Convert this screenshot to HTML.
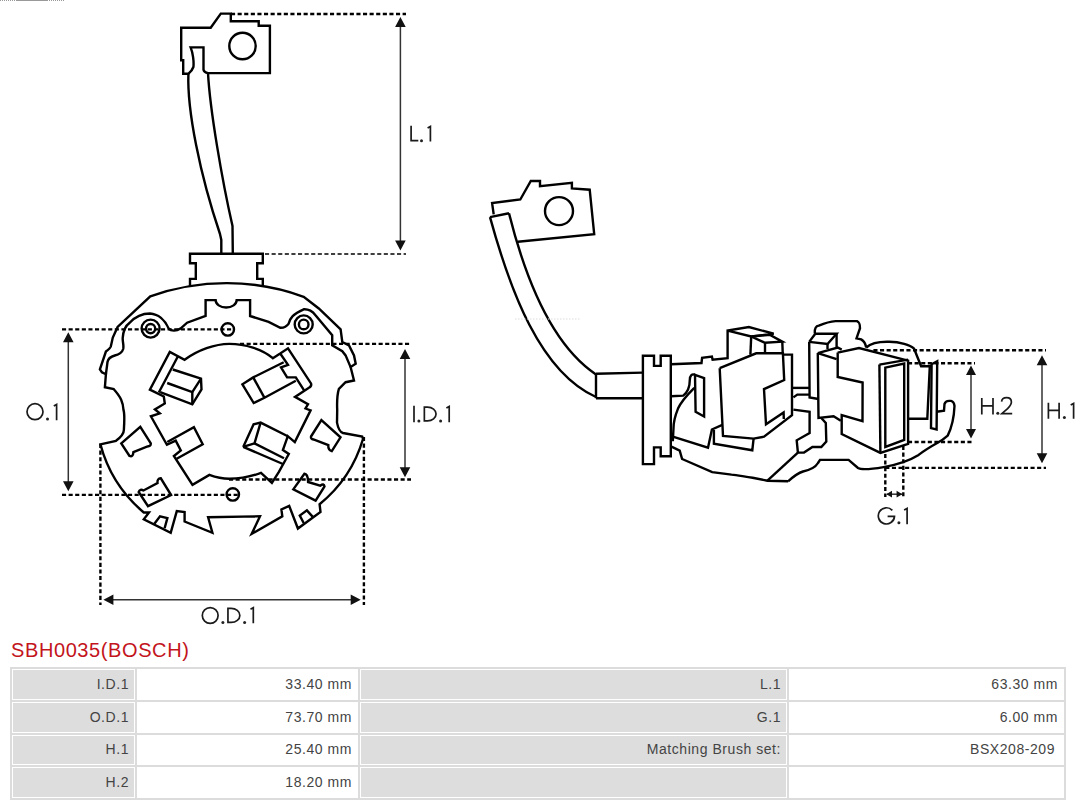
<!DOCTYPE html>
<html><head><meta charset="utf-8">
<style>
html,body{margin:0;padding:0;background:#fff;width:1080px;height:806px;overflow:hidden;position:relative;font-family:"Liberation Sans",sans-serif;}
#dg{position:absolute;left:0;top:0;}
#title{position:absolute;left:11px;top:640px;font-size:20px;line-height:20px;color:#c3141c;letter-spacing:0.6px;white-space:nowrap;}
table{position:absolute;left:10px;top:667px;width:1056px;border-collapse:separate;border-spacing:2px;background:#dcdcdc;table-layout:fixed;}
td{border:1px solid #fff;height:30.75px;padding:0 5px 1px 0;box-sizing:border-box;text-align:right;font-size:14px;color:#444;letter-spacing:0.55px;white-space:nowrap;}
td.l{background:#dddddd;}
td.v{background:#fff;}
.ah{fill:#111;stroke:none;}
.dot{fill:#222;stroke:none;}
</style></head><body>
<svg id="dg" width="1080" height="630" viewBox="0 0 1080 630">
<g fill="none" stroke="#000" stroke-width="2.4" stroke-linejoin="miter" stroke-linecap="butt">
<path d="M220.8,13.6 H230.8 V21.2 H258.7 V25.7 H269.9 V73.1 H208 Q204,72.5 203.5,69.8 V47.4 H190.6 C193,53 194,62 193.4,67 Q192,71 188.4,73.7 H183.2 V60.3 H181.2 V27.7 H210.7 Z"/>
<path d="M188.4,73.7 C187,110 200,175 220,234 L221.3,240 V253.7"/>
<path d="M208,73.1 C210,110 222,180 232.5,226 L232.8,253.7"/>
<path d="M190,286 V278.9 H195.8 V263.3 H190 V253.7 H262.8 V263.3 H257.2 V278.9 H262.8 V286"/>
<path d="M150.3,296.4 A225,225 0 0 1 303.7,296.8 L318.8,308.5 L340.6,329.4 L342.3,342.0 L349.0,345.4 L354.0,355.4 L355.7,363.8 L350.6,367.1 L354.0,380.5 L345.6,382.2 L338.9,388.9 C337,395 337,405 337.2,410 L337,422.6 C338,428 340,432 343,433 L362.2,436.5 L363,439 A132,132 0 0 1 319.6,504.2 L320.5,512.0 L297.9,528.5 L289.2,505.9 L281.4,509.4 L282.3,516.3 L251.7,533.9 L260.0,516.3 L208.1,517.2 L212.4,532.8 L184.6,521.5 L184.6,512.0 L176.8,511.1 L170.7,532.8 L143.8,519.4 L149.0,512.5 L143.8,512.5 A134,134 0 0 1 100.4,444.3 L116,440.8 C121,437 124,433 123.9,429.5 C124.5,420 124.5,413 123.5,410 C123,402 121,397.3 113.8,389.2 L104.9,387.2 L105.9,374.3 L101.9,372.3 L99.9,369.4 L105.9,351.5 C108.5,349.5 110.5,347.5 110.8,346.5 L112.8,337.6 L117.6,326.9 Z"/>
<path d="M105.9,374.3 L107.5,362 C108,359 111,356.5 114.8,355.5 C119,354.5 122,353 123.2,349 C124,345 122.5,342 122.7,338 C123,333 125,326 129.7,322.7 C135,317 142,313.5 150,313.5 C158,314 165,320 168.7,328.6 C171,331 176,331.5 180.5,328.6 L187.1,322.7 L205.6,316 V300.1 H215.6 A10.5,7.4 0 0 0 236.7,300.1 H250.1 V316 L268.6,321.9 L280.3,327.8 C284,328 287,326 288.7,323.6 C290,318 293,314 303.7,309.3 C310,309 313,312 315.5,315.2 L332.2,335.3 V345.4 L342.3,351.2 L345.6,355.4 L350.6,367.1"/>
<path d="M184.6,359.8 C198,350 215,344 229.3,343.9 C245,344 262,349 272.8,358.2 L280.2,353.5 L288,348.3 L311,383.4 Q312,386.5 308.5,388 L295,396.9 L308,404.3 L305.5,408.5 L310.6,410.4 L294.8,442.1 L287.8,436.2 L282.9,450.1 L288.8,454 L278.9,471.9 L271.9,482.8 L261,472.9 C250,477 240,478.8 229.3,478.8 C222,478.8 215,477 209.4,474.9 L192.5,484.8 L173.9,456 L180.8,450.4 L175.7,440.6 L166.9,444.8 L150.9,416.3 L159.8,413.4 L154.9,409.4 L164.8,403.5 L163.8,396.5 L149.9,389.6 L169.8,351.9 Z"/>
<path d="M177.7,356.8 L158.8,392.5"/>
<path d="M280.2,353.5 L288.0,364.8 L281.0,367.4 L287.1,377.4 L295.8,377.4 L304.1,390.4"/>
<path d="M172.8,369.5 L201.0,378.7 L201.5,389.5 L192.3,404.3 L160.2,392.1"/>
<path d="M167.2,383.0 L192.3,392.1 L201.0,378.7"/>
<path d="M192.3,392.1 L192.3,404.3"/>
<path d="M283.7,362.2 L253.2,377.4 L242.4,384.3 L253.7,403.0 L264.5,397.8 L295.8,380.8"/>
<path d="M253.2,377.4 L264.5,397.8"/>
<path d="M167.3,442.0 L193.9,427.1 L202.7,444.3 L176.7,458.8"/>
<path d="M243.2,446.9 L253.6,424.3 L260.6,422.6 L287.8,436.2"/>
<path d="M243.2,446.9 L282.9,464.0"/>
<path d="M260.6,422.6 L254.5,443.4 L243.2,446.9"/>
<path d="M254.5,443.4 L284.0,458.2"/>
<path d="M121.3,443.4 L140.3,426.9 L150.8,443.4 Q151,446.5 147.5,446.5 L133.4,452.1 Q133,457.5 129.5,456 Z"/>
<path d="M138.7,492 Q140,488.5 143.5,490.5 L157.5,483 Q157,478.5 160.8,478.3 L171.1,495 L148,506.1 Z"/>
<path d="M311,436.5 L321.4,420 L340.5,437.3 L331.8,451.2 Q328,450 328.3,445.1 L313.5,439.5 Q310.5,439 311,436.5 Z"/>
<path d="M293.3,489.4 L304.4,473.7 Q308,474 308.1,482 L320.2,485.7 Q324,483 324.5,486.5 L315.6,500.6 Z"/>
<path d="M154.4,523.7 L160.0,516.3 L167.4,518.1 L164.6,528.3"/>
<path d="M303.7,523.0 L299.8,515.6 L306.9,510.4 L312.8,516.9"/>
<path d="M493.7,214.4 L492.1,203.1 L520.3,199.5 L530.8,181.0 L540.0,181.0 L540.0,186.1 L571.9,182.9 L571.9,188.5 L589.7,189.7 L594.2,234.2 L517.9,241.8"/>
<path d="M490.0,217.1 L509.0,213.2"/>
<path d="M490,217.1 C510,290 540,372 596,397"/>
<path d="M509,213.2 C527,285 555,347 596,374.4"/>
<path d="M596,373.7 L642.9,372.6 M596,398.3 H642.9 M596,373.7 V398.3"/>
<path d="M642.9,355.8 H654 V365.9 H660.7 V355.8 H670.8 V456.3 H660.7 V447.4 H654 V464.1 H642.9 Z"/>
<path d="M670.9,364.3 L701.5,363.0 L702.1,357.8 L711.9,356.5 L712.6,359.8 L727.6,358.2 L727.6,330.6 L748.9,327.1 L773.7,333.7 L751.2,336.5 L727.6,330.6"/>
<path d="M751.2,336.5 L750.4,354.6"/>
<path d="M751.2,336.5 L770.1,334.9 L782.3,341.6 L765.0,342.8 L751.2,336.5"/>
<path d="M765.0,342.8 L765.0,352.6"/>
<path d="M782.3,341.6 L782.7,352.6"/>
<path d="M719.7,368.2 L756.2,353.3 L782.9,353.3 L784.2,380.0 L764.0,389.1 L766.0,424.3 L783.6,412.5 L783.8,419.0"/>
<path d="M719.7,368.2 L723.0,436.0 L753.6,438.6 L764.0,436.7 L792.0,415.2 L792.0,354.6 L782.9,354.6"/>
<path d="M695.0,374.8 L704.1,378.0 L704.1,416.5 L695.6,411.9 Z"/>
<path d="M670.9,396.3 L683.2,395.6 C688,392 689.8,387.8 689.8,380 C690,375 692,373.5 695,374.8"/>
<path d="M694.3,387.8 C686,396 680,404 678,408.6 C675,416 673.5,424 673.5,428.2 L672.8,441.2"/>
<path d="M672.8,436.7 L708.0,447.7 L711.9,429.5 L722.3,424.9"/>
<path d="M713.9,430.1 L713.9,443.8 L752.3,450.3 L753.6,438.6"/>
<path d="M792.3,387.9 L809.6,387.9"/>
<path d="M793.4,397.4 L797.3,394.6 L809.6,394.6"/>
<path d="M670.9,446.4 L679.7,450.6 L682.1,459 L712.2,472.2 L731.5,474.6 C738,475 745,477 752.6,477.8 L767.4,480.7 L788.1,481.3"/>
<path d="M793.4,409.6 L809.6,411.9 L809.6,433.1 L796.7,440.3 L797.9,452.6 L804,452.6 L812.4,447 L821.3,447 L826.3,441.5 L825.8,423 L821.3,418"/>
<path d="M797.9,452.6 L767.4,480.7"/>
<path d="M788.1,481.3 C794,476 798,473 803,471.5 C810,470 815,468 818,463 L820,459.9 H848.6 L858,468 C860,469.3 868,469.8 883.6,467.1 C900,464 912,459 918.6,454.9 C925,450 930,447 937.2,443 C941,441 945,438 947.7,435.6 C951,429 954,418 954.5,406 Q954,401.5 951,400.9 L949,400.9 Q945.5,401 944.5,404 L944,410.8 L936.6,411.8"/>
<path d="M814.8,333.3 C814.5,329 816,326 818.8,325.6 C825,323 830,321.5 835.6,321.1 L857,321.1 C859,322 860,323 860,328.2 L856.5,338.4 L861.1,339.4 C864,341 865.6,344 866.2,347.5"/>
<path d="M866.2,347.5 C870,344 876,341.4 889.3,341.8 C900,342 910,345 914.1,348.7 L921.1,366.2 L929.8,366.2 L927.3,418.8 L908.7,418.8"/>
<path d="M809.2,341.9 L815.3,333.8 L836.6,333.8 L827.5,344.0 L809.2,341.9"/>
<path d="M809.2,341.9 L809.6,397.4 L818.5,399.0"/>
<path d="M827.5,344.0 L827.5,349.0"/>
<path d="M836.6,333.8 L836.6,347.5"/>
<path d="M817.8,353.1 L837.7,347.5 L841.7,349.6"/>
<path d="M817.8,353.1 L836.6,359.2"/>
<path d="M817.8,353.1 L818.5,418.0 L833.6,416.3 L840.8,420.8"/>
<path d="M837.7,352.6 L837.7,377.0 L862.6,382.5 L862.5,421.2 L841.7,415.2 L841.7,434.0 L880.4,452.9 L908.1,444.0 L908.1,360.6 L859.0,348.0 L837.7,352.6"/>
<path d="M879.4,364.6 L908.1,359.6"/>
<path d="M879.4,364.6 L880.4,452.9"/>
<path d="M885.3,367.6 L904.2,363.6 L904.2,440.0 L885.3,447.0 Z"/>
<path d="M931.6,364.3 L937.2,361.2 L936.6,429.4 L931.0,428.1 Z"/>
<circle cx="242.5" cy="46" r="13.2"/>
<circle cx="150.6" cy="328.6" r="9"/>
<circle cx="150.6" cy="328.6" r="4.6"/>
<circle cx="303.7" cy="324.4" r="9"/>
<circle cx="303.7" cy="324.4" r="4.8"/>
<circle cx="227.8" cy="329.4" r="6.2"/>
<circle cx="232.8" cy="494.4" r="6.2"/>
<circle cx="559" cy="211.1" r="14"/>
</g>
<line x1="0" y1="0.5" x2="15" y2="0.5" stroke="#999" stroke-width="1" stroke-dasharray="1 1"/><line x1="16" y1="0.5" x2="48" y2="0.5" stroke="#999" stroke-width="1"/><line x1="49" y1="0.5" x2="64" y2="0.5" stroke="#999" stroke-width="1" stroke-dasharray="1 1"/>
<line x1="515" y1="319" x2="581" y2="319" stroke="#dcdcdc" stroke-width="1" stroke-dasharray="1.5 1.5"/>
<g fill="none" stroke="#000" stroke-dasharray="4.1 2.5">
<line x1="231" y1="13.9" x2="406" y2="13.9" stroke-width="2.5"/>
<line x1="265" y1="254" x2="406" y2="254" stroke-width="1.6"/>
<line x1="62" y1="329.4" x2="234" y2="329.4" stroke-width="2.4"/>
<line x1="62" y1="494.9" x2="239" y2="494.9" stroke-width="2.4"/>
<line x1="240" y1="343.9" x2="411" y2="343.9" stroke-width="2.4"/>
<line x1="229" y1="479.5" x2="411" y2="479.5" stroke-width="2.4"/>
<line x1="100.4" y1="444" x2="100.4" y2="605" stroke-width="2.4"/>
<line x1="363.9" y1="437" x2="363.9" y2="605" stroke-width="2.4"/>
<line x1="873.4" y1="350.3" x2="1046" y2="350.3" stroke-width="2.4"/>
<line x1="908" y1="363.3" x2="975" y2="363.3" stroke-width="2.4"/>
<line x1="908" y1="442" x2="973" y2="442" stroke-width="2.4"/>
<line x1="885.3" y1="467.9" x2="1046" y2="467.9" stroke-width="2.4"/>
<line x1="885.3" y1="453.9" x2="885.3" y2="497" stroke-width="2.4"/>
<line x1="903.3" y1="446" x2="903.3" y2="497" stroke-width="2.4"/>
</g>
<g fill="none" stroke="#333" stroke-width="1.5">
<line x1="400.4" y1="26" x2="400.4" y2="241.5"/><path class="ah" d="M400.4,17 L405.7,27 L395.09999999999997,27 Z M400.4,250.5 L405.7,240.5 L395.09999999999997,240.5 Z"/>
<line x1="68.3" y1="341.3" x2="68.3" y2="482.3"/><path class="ah" d="M68.3,332.3 L73.6,342.3 L63.0,342.3 Z M68.3,491.3 L73.6,481.3 L63.0,481.3 Z"/>
<line x1="405" y1="357.9" x2="405" y2="468.3"/><path class="ah" d="M405,348.9 L410.3,358.9 L399.7,358.9 Z M405,477.3 L410.3,467.3 L399.7,467.3 Z"/>
<line x1="112.4" y1="599.8" x2="351.7" y2="599.8"/><path class="ah" d="M103.4,599.8 L113.4,605.0999999999999 L113.4,594.5 Z M360.7,599.8 L350.7,605.0999999999999 L350.7,594.5 Z"/>
<line x1="971" y1="374.1" x2="971" y2="430.0"/><path class="ah" d="M971,365.6 L976,375.1 L966,375.1 Z M971,438.5 L976,429.0 L966,429.0 Z"/>
<line x1="1042" y1="364.2" x2="1042" y2="454.3"/><path class="ah" d="M1042,355.2 L1047.3,365.2 L1036.7,365.2 Z M1042,463.3 L1047.3,453.3 L1036.7,453.3 Z"/>
<line x1="887" y1="494.2" x2="902" y2="494.2"/><path class="ah" d="M886.3,494.2 L892,490.8 L892,497.6 Z M902.3,494.2 L896.6,490.8 L896.6,497.6 Z"/>
</g>
<g fill="none" stroke="#1a1a1a" stroke-width="1.7" stroke-linecap="butt">
<path d="M411.1,125.8 V140.6 H418.3"/>
<circle class="dot" cx="421.5" cy="140.8" r="1.5"/>
<path d="M427.6,128.0 L430.4,126.4 V141.4"/>
<circle cx="35" cy="411.7" r="8"/>
<circle class="dot" cx="47.5" cy="418.9" r="1.5"/>
<path d="M53.8,406.0 L56.6,404.4 V420.2"/>
<path d="M414,405.8 V422.2"/>
<circle class="dot" cx="418.9" cy="421" r="1.5"/>
<path d="M424.35,407.15 H427.55 A8.49999999999999,6.900000000000006 0 0 1 427.55,420.95 H424.35 Z"/>
<circle class="dot" cx="440.6" cy="421" r="1.5"/>
<path d="M446.4,408.0 L449.2,406.4 V422.2"/>
<circle cx="210.2" cy="615.5" r="7.9"/>
<circle class="dot" cx="222.9" cy="622.6" r="1.5"/>
<path d="M227.95,608.35 H231.14999999999998 A8.700000000000006,7.050000000000011 0 0 1 231.14999999999998,622.45 H227.95 Z"/>
<circle class="dot" cx="244.6" cy="622.6" r="1.5"/>
<path d="M250.5,609.2 L253.3,607.6 V623.2"/>
<path d="M981.8,397.9 V414.4 M993,397.9 V414.4 M981.8,405.8 H993"/>
<circle class="dot" cx="997.8" cy="413.2" r="1.5"/>
<path d="M1001.6,401.6 C1001.8,399 1003.8,397.6 1006.6,397.6 C1009.6,397.6 1011.4,399.4 1011.4,402 C1011.4,404.6 1010,406.2 1007.6,408.6 L1001.8,413.6 H1012.2"/>
<path d="M1048.4,402.7 V418.8 M1059.1,402.7 V418.8 M1048.4,410.4 H1059.1"/>
<circle class="dot" cx="1064.4" cy="417.6" r="1.5"/>
<path d="M1070.7,405.0 L1073.6,403.4 V418.8"/>
<path d="M892.3,510.3 A8.1,8.1 0 1 0 894.5,516.4 H887.6"/>
<circle class="dot" cx="898.9" cy="522.8" r="1.5"/>
<path d="M904.1,510.0 L907.1,508.4 V524.2"/>
</g>
</svg>
<div id="title">SBH0035(BOSCH)</div>
<table>
<colgroup><col style="width:123px"><col style="width:221px"><col style="width:427px"><col style="width:275px"></colgroup>
<tr><td class="l">I.D.1</td><td class="v">33.40 mm</td><td class="l">L.1</td><td class="v">63.30 mm</td></tr>
<tr><td class="l">O.D.1</td><td class="v">73.70 mm</td><td class="l">G.1</td><td class="v">6.00 mm</td></tr>
<tr><td class="l">H.1</td><td class="v">25.40 mm</td><td class="l">Matching Brush set:</td><td class="v" style="padding-right:8px">BSX208-209</td></tr>
<tr><td class="l">H.2</td><td class="v">18.20 mm</td><td class="l"></td><td class="v"></td></tr>
</table>
</body></html>
